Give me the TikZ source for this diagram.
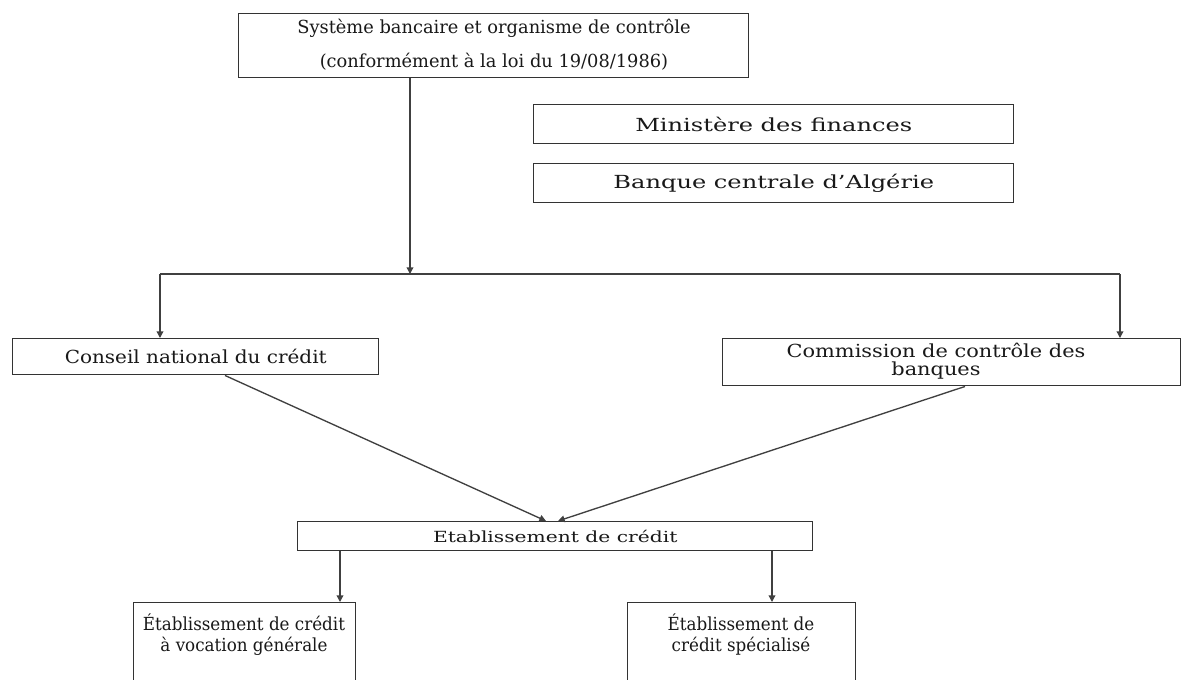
\documentclass[tikz,border=0pt]{standalone}
\usepackage{fontspec}
\setmainfont{DejaVu Serif}
\usetikzlibrary{arrows.meta}
% horizontally stretched text
\newcommand{\wide}[2]{\scalebox{#1}[1]{#2}}
\begin{document}
\begin{tikzpicture}[x=0.75pt,y=-0.75pt,
  box/.style={draw=black!80,line width=1.1pt,inner sep=0pt,align=center,anchor=north west},
  lbl/.style={font=\fontsize{13.5}{16}\selectfont,text=black!90},
  conn/.style={draw=black!75,line width=1pt,-{Triangle[length=5pt,width=5pt]}},
  seg/.style={draw=black!75,line width=1pt}]
\useasboundingbox (0,0) rectangle (1190,679);
\clip (0,0) rectangle (1190,679);
\fill[white] (0,0) rectangle (1190,679);

% top block
\node[box,minimum width=510*0.75pt,minimum height=64*0.75pt] (top) at (238,13) {};
\node[lbl] (t1) at (494,28) {\wide{0.99}{Système bancaire et organisme de contrôle}};
\node[lbl] (t2) at (494,62) {\wide{0.99}{(conformément à la loi du 19/08/1986)}};

% supervising authorities
\node[box,minimum width=480*0.75pt,minimum height=39*0.75pt] (min) at (533,104) {};
\node[lbl] (mt) at (min.center) {\wide{1.34}{Ministère des finances}};
\node[box,minimum width=480*0.75pt,minimum height=39*0.75pt] (bca) at (533,163) {};
\node[lbl] (bt) at (bca.center) {\wide{1.34}{Banque centrale d'Algérie}};

% second level
\node[box,minimum width=366*0.75pt,minimum height=36*0.75pt] (cnc) at (12,338) {};
\node[lbl] (ct) at (cnc.center) {\wide{1.11}{Conseil national du crédit}};
\node[box,minimum width=458*0.75pt,minimum height=47*0.75pt] (ccb) at (722,338) {};
\node[lbl] (k1) at (936,350) {\wide{1.16}{Commission de contrôle des}};
\node[lbl] (k2) at (936,371) {\wide{1.16}{banques}};

% credit institutions
\node[box,minimum width=515*0.75pt,minimum height=29*0.75pt] (etab) at (297,521) {};
\node[font=\fontsize{11.5}{13}\selectfont,text=black!90] (et) at (etab.center) {\wide{1.32}{Etablissement de crédit}};

\node[box,minimum width=222*0.75pt,minimum height=100*0.75pt] (gen) at (133,602) {};
\node[lbl] (g1) at (244,622) {\wide{0.93}{Établissement de crédit}};
\node[lbl] (g2) at (244,646) {\wide{0.93}{à vocation générale}};
\node[box,minimum width=228*0.75pt,minimum height=100*0.75pt] (spe) at (627,602) {};
\node[lbl] (s1) at (741,622) {\wide{0.93}{Établissement de}};
\node[lbl] (s2) at (741,646) {\wide{0.93}{crédit spécialisé}};

% distribution connectors
\coordinate (hub) at (410,274);
\coordinate (hl) at (160,274);
\coordinate (hr) at (1120,274);
\draw[conn] (top.south -| hub) -- (hub);
\draw[seg] (hl) -- (hr);
\draw[conn] (hl) -- (hl |- cnc.north);
\draw[conn] (hr) -- (hr |- ccb.north);

\coordinate (ea) at (546,521);
\coordinate (eb) at (558,521);
\draw[conn] (cnc.south -| 225,0) -- (ea);
\draw[conn] (ccb.south -| 965,0) -- (eb);

\draw[conn] (etab.south -| 340,0) -- (gen.north -| 340,0);
\draw[conn] (etab.south -| 772,0) -- (spe.north -| 772,0);
\end{tikzpicture}
\end{document}
